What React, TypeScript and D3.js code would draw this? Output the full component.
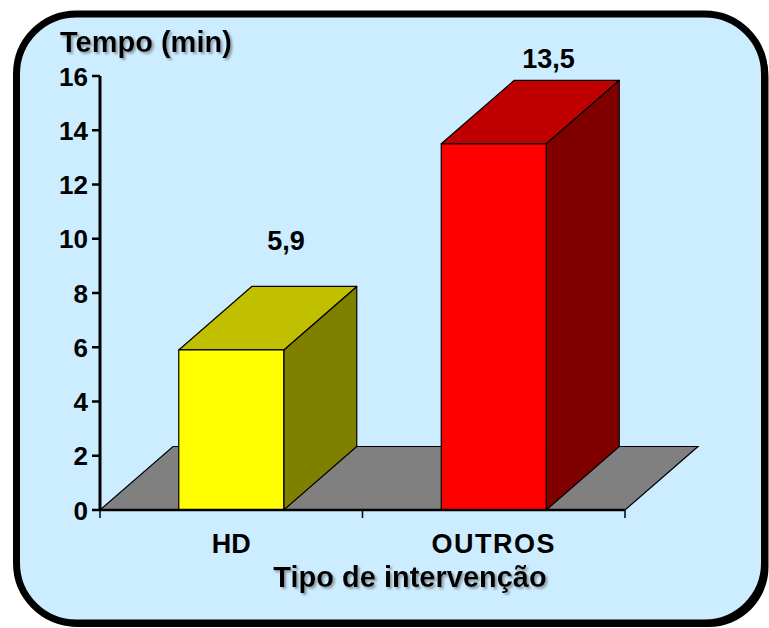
import React from "react";
import * as d3 from "d3";

const categories = ["HD", "OUTROS"];
const values = [5.9, 13.5];
const valueLabels = ["5,9", "13,5"];
const yTicks = [0, 2, 4, 6, 8, 10, 12, 14, 16];
const frontColors = ["#FFFF00", "#FF0000"];
const topColors = ["#C0C000", "#C00000"];
const sideColors = ["#808000", "#800000"];

const W = 769;
const H = 628;
const FONT = "'Liberation Sans', Arial, sans-serif";

export default function App() {
  const x0 = 100;
  const x1 = 625;
  const yBase = 510;
  const yTop = 76;
  const dx = 73;
  const dy = -63.5;

  const y = d3.scaleLinear().domain([0, 16]).range([yBase, yTop]);
  const x = d3.scaleBand().domain(categories).range([x0, x1]).paddingInner(0).paddingOuter(0);
  const bw = x.bandwidth() * 0.4;

  const floor = [
    [x0, yBase],
    [x0 + dx, yBase + dy],
    [x1 + dx, yBase + dy],
    [x1, yBase],
  ];
  const poly = (pts: number[][]) => pts.map((p) => p.join(",")).join(" ");

  const bandTicks = [x0, ...categories.map((c) => (x(c) as number) + x.bandwidth())];

  return (
    <svg
      width={W}
      height={H}
      style={{ position: "absolute", left: 0, top: 0, display: "block" }}
      fontFamily={FONT}
      fontWeight="bold"
    >
      <defs>
        <filter id="tshadow" x="-5%" y="-20%" width="110%" height="150%">
          <feDropShadow dx={2} dy={2} stdDeviation={0.8} floodColor="#7f8a90" floodOpacity={0.8} />
        </filter>
      </defs>
      <rect x={0} y={0} width={W} height={H} fill="#ffffff" />
      <rect x={19.5} y={17} width={749} height={610} rx={60} ry={60} fill="#000" />
      <rect
        x={16.5}
        y={14}
        width={748}
        height={609}
        rx={60}
        ry={60}
        fill="#CCECFF"
        stroke="#000"
        strokeWidth={7}
      />

      {/* floor */}
      <polygon points={poly(floor)} fill="#808080" stroke="#000" strokeWidth={1.2} />

      {/* bars */}
      {categories.map((c, i) => {
        const cx = (x(c) as number) + x.bandwidth() / 2;
        const l = cx - bw / 2;
        const r = cx + bw / 2;
        const t = y(values[i]);
        const front = [
          [l, yBase],
          [l, t],
          [r, t],
          [r, yBase],
        ];
        const top = [
          [l, t],
          [l + dx, t + dy],
          [r + dx, t + dy],
          [r, t],
        ];
        const side = [
          [r, yBase],
          [r, t],
          [r + dx, t + dy],
          [r + dx, yBase + dy],
        ];
        const labelY = Math.max(t + dy - 36, 68);
        return (
          <g key={c}>
            <polygon points={poly(side)} fill={sideColors[i]} stroke="#000" strokeWidth={1.2} strokeLinejoin="round" />
            <polygon points={poly(top)} fill={topColors[i]} stroke="#000" strokeWidth={1.2} strokeLinejoin="round" />
            <polygon points={poly(front)} fill={frontColors[i]} stroke="#000" strokeWidth={1.2} strokeLinejoin="round" />
            <text x={cx + dx * 0.75} y={labelY} textAnchor="middle" fontSize={27} fill="#000">
              {valueLabels[i]}
            </text>
          </g>
        );
      })}

      {/* y axis */}
      <line x1={x0} x2={x0} y1={yTop} y2={yBase} stroke="#000" strokeWidth={3} />
      {yTicks.map((v) => (
        <g key={v}>
          <line x1={x0 - 8} x2={x0} y1={y(v)} y2={y(v)} stroke="#000" strokeWidth={2.5} />
          <text x={88} y={y(v) + 9.5} textAnchor="end" fontSize={26} fill="#000">
            {v}
          </text>
        </g>
      ))}

      {/* x axis */}
      <line x1={x0} x2={x1} y1={yBase} y2={yBase} stroke="#000" strokeWidth={2.5} />
      {bandTicks.map((tx, i) => (
        <line key={i} x1={tx} x2={tx} y1={yBase} y2={yBase + 8} stroke="#000" strokeWidth={1.5} />
      ))}
      {categories.map((c) => (
        <text
          key={c}
          x={(x(c) as number) + x.bandwidth() / 2}
          y={553}
          textAnchor="middle"
          fontSize={27}
          letterSpacing={c === "OUTROS" ? 1.5 : 0}
          fill="#000"
        >
          {c}
        </text>
      ))}

      {/* titles with shadow */}
      <text x={60} y={52} fontSize={29} fill="#000" filter="url(#tshadow)">
        Tempo (min)
      </text>
      <text x={410} y={587} textAnchor="middle" fontSize={29} fill="#000" filter="url(#tshadow)">
        Tipo de intervenção
      </text>
    </svg>
  );
}
